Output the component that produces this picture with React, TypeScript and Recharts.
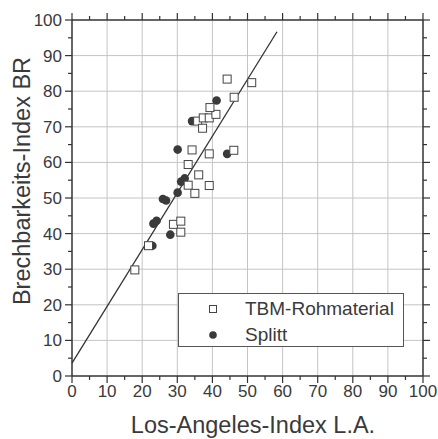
import React from "react";
import { ScatterChart, Scatter, XAxis, YAxis, ReferenceLine, Legend } from "recharts";

// Los-Angeles-Index (L.A.) vs Brechbarkeits-Index (BR)
const tbmLA = [17.9, 21.8, 28.9, 31, 31, 33.1, 35, 36.1, 39.1, 33.1, 34.2, 39.1, 46.1, 35.8, 37.2, 37.4, 39.1, 41, 39.3, 46.2, 44.2, 51.2];
const tbmBR = [29.8, 36.6, 42.6, 43.5, 40.4, 53.6, 51.3, 56.5, 53.5, 59.4, 63.5, 62.4, 63.4, 71.6, 69.6, 72.5, 72.5, 73.5, 75.4, 78.3, 83.4, 82.4];

const splittLA = [22.9, 23.2, 24.1, 25.9, 26.8, 28, 30.1, 31.1, 32.1, 30.1, 34.2, 41.2, 44.2];
const splittBR = [36.6, 42.8, 43.6, 49.7, 49.3, 39.7, 51.5, 54.6, 55.5, 63.6, 71.6, 77.4, 62.4];

// regression line end points
const fitLA = [0, 58.4];
const fitBR = [3.6, 96.7];

const ticks = [0, 5, 10, 15, 20, 25, 30, 35, 40, 45, 50, 55, 60, 65, 70, 75, 80, 85, 90, 95, 100];
const majorTicks = [0, 10, 20, 30, 40, 50, 60, 70, 80, 90, 100];

const seriesNames = ["TBM-Rohmaterial", "Splitt"];

const tbmData = tbmLA.map((la, i) => ({ la, br: tbmBR[i] }));
const splittData = splittLA.map((la, i) => ({ la, br: splittBR[i] }));
const fitData = fitLA.map((la, i) => ({ la, br: fitBR[i] }));

const FONT = "'Liberation Sans', Arial, Helvetica, sans-serif";
const AXIS = "#333";
const TEXT = "#3a3a3a";
const GRID = "#c4c4c4";

const isMajor = (v: number) => v % 10 === 0;

const BottomTick = (props: any) => {
  const { x, y, payload } = props;
  const len = isMajor(payload.value) ? 7 : 4;
  return (
    <g>
      <line x1={x} y1={y} x2={x} y2={y + len} stroke={AXIS} strokeWidth={1.2} />
      {isMajor(payload.value) && (
        <text x={x} y={y + 21} textAnchor="middle" fontSize={17} fill={TEXT} fontFamily={FONT}>
          {payload.value}
        </text>
      )}
    </g>
  );
};

const LeftTick = (props: any) => {
  const { x, y, payload } = props;
  const len = isMajor(payload.value) ? 7 : 4;
  return (
    <g>
      <line x1={x} y1={y} x2={x - len} y2={y} stroke={AXIS} strokeWidth={1.2} />
      {isMajor(payload.value) && (
        <text x={x - 10} y={y + 6} textAnchor="end" fontSize={17} fill={TEXT} fontFamily={FONT}>
          {payload.value}
        </text>
      )}
    </g>
  );
};

const TopTick = (props: any) => {
  const { x, y, payload } = props;
  const len = isMajor(payload.value) ? 7 : 4;
  return <line x1={x} y1={y} x2={x} y2={y - len} stroke={AXIS} strokeWidth={1.2} />;
};

const RightTick = (props: any) => {
  const { x, y, payload } = props;
  const len = isMajor(payload.value) ? 7 : 4;
  return <line x1={x} y1={y} x2={x + len} y2={y} stroke={AXIS} strokeWidth={1.2} />;
};

const Square = (props: any) => {
  const { cx, cy } = props;
  return <rect x={cx - 4} y={cy - 4} width={8} height={8} fill="#fff" stroke="#444" strokeWidth={1} />;
};

const Dot = (props: any) => {
  const { cx, cy } = props;
  return <circle cx={cx} cy={cy} r={4.3} fill="#3a3a3a" />;
};

const LegendBox = () => (
  <div
    style={{
      border: "1px solid #555",
      background: "#fff",
      width: 226,
      height: 54,
      boxSizing: "border-box",
      fontFamily: FONT,
      fontSize: 19,
      color: TEXT,
      position: "relative",
    }}
  >
    {seriesNames.map((name, i) => (
      <div key={name} style={{ position: "absolute", left: 0, top: 3 + i * 26, height: 24, display: "flex", alignItems: "center" }}>
        <svg width={66} height={24}>
          {i === 0 ? (
            <rect x={30.5} y={8.5} width={7} height={7} fill="#fff" stroke="#444" />
          ) : (
            <circle cx={34} cy={12} r={3.8} fill="#3a3a3a" />
          )}
        </svg>
        <span style={{ whiteSpace: "nowrap" }}>{name}</span>
      </div>
    ))}
  </div>
);

export default function App() {
  return (
    <div style={{ position: "relative", width: 438, height: 439 }}>
      <style>{"body{margin:0}"}</style>
      <ScatterChart width={438} height={439} margin={{ top: 18, right: 13, bottom: 33, left: 12 }}>
        <XAxis
          type="number"
          dataKey="la"
          domain={[0, 100]}
          ticks={ticks}
          interval={0}
          height={30}
          tickSize={0}
          tickMargin={0}
          tickLine={false}
          tick={<BottomTick />}
          axisLine={{ stroke: AXIS, strokeWidth: 1.5 }}
          label={{
            content: () => (
              <text x={253} y={433} textAnchor="middle" fontSize={23.5} fill={TEXT} fontFamily={FONT}>
                Los-Angeles-Index L.A.
              </text>
            ),
          }}
        />
        <YAxis
          type="number"
          dataKey="br"
          domain={[0, 100]}
          ticks={ticks}
          interval={0}
          width={60}
          tickSize={0}
          tickMargin={0}
          tickLine={false}
          tick={<LeftTick />}
          axisLine={{ stroke: AXIS, strokeWidth: 1.5 }}
          label={{
            content: () => (
              <text
                x={30}
                y={181}
                transform="rotate(-90 30 181)"
                textAnchor="middle"
                fontSize={23.5}
                fill={TEXT}
                fontFamily={FONT}
              >
                Brechbarkeits-Index BR
              </text>
            ),
          }}
        />
        <XAxis
          xAxisId="top"
          orientation="top"
          type="number"
          dataKey="la"
          domain={[0, 100]}
          ticks={ticks}
          interval={0}
          height={2}
          tickSize={0}
          tickMargin={0}
          tickLine={false}
          tick={<TopTick />}
          axisLine={{ stroke: AXIS, strokeWidth: 1.5 }}
        />
        <YAxis
          yAxisId="right"
          orientation="right"
          type="number"
          dataKey="br"
          domain={[0, 100]}
          ticks={ticks}
          interval={0}
          width={2}
          tickSize={0}
          tickMargin={0}
          tickLine={false}
          tick={<RightTick />}
          axisLine={{ stroke: AXIS, strokeWidth: 1.5 }}
        />
        {majorTicks.slice(1, -1).map((v) => (
          <ReferenceLine key={`gx${v}`} x={v} stroke={GRID} strokeWidth={1} />
        ))}
        {majorTicks.slice(1, -1).map((v) => (
          <ReferenceLine key={`gy${v}`} y={v} stroke={GRID} strokeWidth={1} />
        ))}
        <Scatter
          name="fit"
          data={fitData}
          xAxisId="top"
          yAxisId="right"
          line={{ stroke: "#333", strokeWidth: 1.3 }}
          shape={() => <g />}
          legendType="none"
          isAnimationActive={false}
        />
        <Scatter name={seriesNames[1]} data={splittData} shape={<Dot />} isAnimationActive={false} />
        <Scatter name={seriesNames[0]} data={tbmData} shape={<Square />} isAnimationActive={false} />
        <Legend
          layout="horizontal"
          verticalAlign="middle"
          align="center"
          content={() => <LegendBox />}
          wrapperStyle={{ left: 178, top: 293, width: 227, height: 55 }}
        />
      </ScatterChart>
    </div>
  );
}
